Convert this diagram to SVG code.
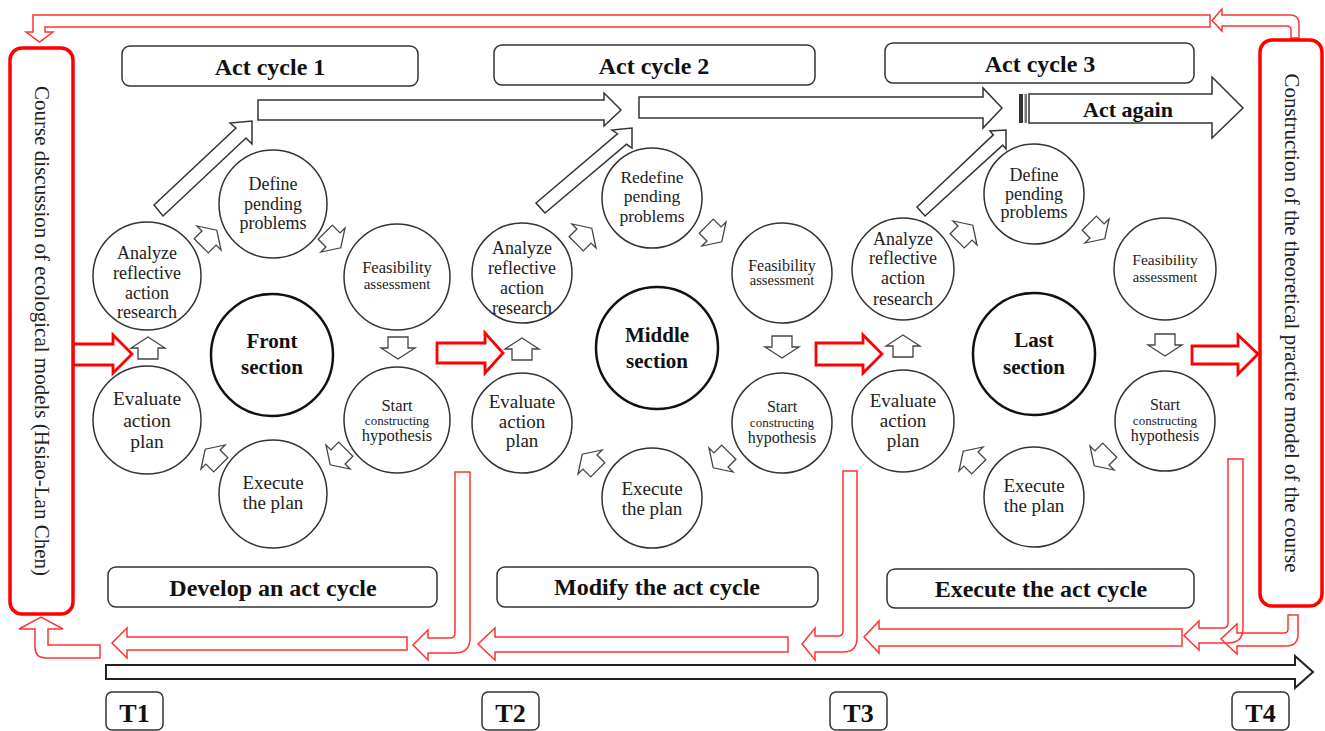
<svg xmlns="http://www.w3.org/2000/svg" width="1325" height="731" viewBox="0 0 1325 731">
<style>
.c{fill:#fff;stroke:#333;stroke-width:1.5}
.cc{fill:#fff;stroke:#111;stroke-width:2.5}
.box{fill:#fff;stroke:#333;stroke-width:1.5}
.rbox{fill:#fff;stroke:#f00;stroke-width:3.5}
.ha{fill:#fff;stroke:#333;stroke-width:1.5;stroke-linejoin:miter}
.sa{fill:#fff;stroke:#444;stroke-width:1.3}
.ra{fill:#fff;stroke:#f00;stroke-width:2.8}
.ta{fill:none;stroke:#f33;stroke-width:1.5}
.t{font-family:"Liberation Serif","Times New Roman",serif;fill:#222;text-anchor:middle}
.b{font-weight:bold;fill:#111}
</style>
<defs>
<path id="sa" d="M-10,11 L10,11 L10,0 L17,0 L0,-11 L-17,0 L-10,0 Z"/>
</defs>

<g id="connectors">
  <path class="ta" d="M1291,38 L1299,38 L1299,24 Q1299,15 1290,15 L1222,15 L1222,9 L1212,20.5 L1222,31 L1222,26 L1287,26 Q1291,26 1291,30 Z"/>
  <path class="ta" d="M1210,15 L33,15 L33,32 L26,32 L39.5,42 L53,32 L45,32 L45,27 L1210,27 Z"/>
  <path class="ta" d="M100,645 L48,645 L48,629 L63,629 L41,617 L19,629 L35,629 L35,647 Q35,658 46,658 L100,658 Z"/>
  <path class="ta" d="M407,637 L127,637 L127,628 L112,643 L127,658 L127,650 L407,650 Z"/>
  <path class="ta" d="M455,472 L470,472 L470,638 Q470,653 455,653 L428,653 L428,660 L413,645 L428,630 L428,638 L450,638 Q455,638 455,633 Z"/>
  <path class="ta" d="M788,637 L495,637 L495,628 L478,644 L495,660 L495,652 L788,652 Z"/>
  <path class="ta" d="M843,471 L857,471 L857,638 Q857,652 843,652 L815,652 L815,660 L802,644 L815,628 L815,636 L838,636 Q843,636 843,631 Z"/>
  <path class="ta" d="M1182,629 L879,629 L879,621 L864,637 L879,653 L879,646 L1182,646 Z"/>
  <path class="ta" d="M1228,459 L1243,459 L1243,628 Q1243,643 1228,643 L1199,643 L1199,650 L1184,635.5 L1199,621 L1199,628 L1223,628 Q1228,628 1228,623 Z"/>
  <path class="ta" d="M1288,615 L1298,615 L1298,634 Q1298,646 1286,646 L1237,646 L1237,654 L1221,639 L1237,624 L1237,633 L1284,633 Q1288,633 1288,629 Z"/>

  <polygon fill="#fff" stroke="#222" stroke-width="2" points="106,665 1295,665 1295,656 1313,672 1295,688 1295,679 106,679"/>

  <polygon class="ha" points="154,205 236,128 230,123 252,121 252,144 246,138 163,216"/>
  <polygon class="ha" points="258,100 604,100 604,93 621,110 604,126 604,120 258,120"/>
  <polygon class="ha" points="536,203 617.5,133.7 612,130 632,128 632,148 626.5,144.3 545,213"/>
  <polygon class="ha" points="639,97 983,97 983,88 1002,108 983,128 983,118 639,118"/>
  <polygon class="ha" points="917,207 993.3,134.9 990,131 1006,130 1006,149 1002.7,145.1 925,216"/>
  <rect x="1019" y="94" width="4" height="29" fill="#333"/>
  <rect x="1024.5" y="94" width="2.5" height="29" fill="#777"/>
  <polygon class="ha" points="1029,94 1212,94 1212,77 1243,108 1212,138 1212,123 1029,123"/>
  <text class="t b" x="1128" y="117" font-size="22">Act again</text>

  <polygon class="ra" points="73,344 113,344 113,335 132,354 113,373 113,365 73,365"/>
  <polygon class="ra" points="437,343 485,343 485,333 503,353 485,373 485,363 437,363"/>
  <polygon class="ra" points="816,343 863,343 863,335 882,354 863,373 863,365 816,365"/>
  <polygon class="ra" points="1192,346 1238,346 1238,335 1258,354 1238,374 1238,364 1192,364"/>

  <use href="#sa" class="sa" transform="translate(209,238) rotate(45)"/>
  <use href="#sa" class="sa" transform="translate(333,240) rotate(135)"/>
  <use href="#sa" class="sa" transform="translate(398,348) rotate(180)"/>
  <use href="#sa" class="sa" transform="translate(338,457) rotate(225)"/>
  <use href="#sa" class="sa" transform="translate(213,457) rotate(315)"/>
  <use href="#sa" class="sa" transform="translate(148,348)"/>
  <use href="#sa" class="sa" transform="translate(584,236) rotate(45)"/>
  <use href="#sa" class="sa" transform="translate(714,234) rotate(135)"/>
  <use href="#sa" class="sa" transform="translate(782,347) rotate(180)"/>
  <use href="#sa" class="sa" transform="translate(721,460) rotate(225)"/>
  <use href="#sa" class="sa" transform="translate(590,462) rotate(315)"/>
  <use href="#sa" class="sa" transform="translate(522,349)"/>
  <use href="#sa" class="sa" transform="translate(965,233) rotate(45)"/>
  <use href="#sa" class="sa" transform="translate(1097,231) rotate(135)"/>
  <use href="#sa" class="sa" transform="translate(1165,345) rotate(180)"/>
  <use href="#sa" class="sa" transform="translate(1102,458) rotate(225)"/>
  <use href="#sa" class="sa" transform="translate(971,459) rotate(315)"/>
  <use href="#sa" class="sa" transform="translate(903,346)"/>
</g>

<g id="course-discussion">
  <rect class="rbox" x="10" y="48" width="63" height="566" rx="12"/>
  <text class="t" font-size="21" transform="translate(35,331) rotate(90)">Course discussion of ecological models (Hsiao-Lan Chen)</text>
</g>
<g id="construction">
  <rect class="rbox" x="1260" y="40" width="62" height="566" rx="12"/>
  <text class="t" font-size="21" transform="translate(1285,323) rotate(90)">Construction of the theoretical practice model of the course</text>
</g>

<g id="act-cycle-1"><rect class="box" x="122" y="46" width="296" height="40" rx="8"/><text class="t b" x="270" y="75" font-size="24">Act cycle 1</text></g>
<g id="act-cycle-2"><rect class="box" x="494" y="45" width="321" height="40" rx="8"/><text class="t b" x="654" y="74" font-size="24">Act cycle 2</text></g>
<g id="act-cycle-3"><rect class="box" x="885" y="43" width="309" height="40" rx="8"/><text class="t b" x="1040" y="72" font-size="24">Act cycle 3</text></g>

<g id="develop"><rect class="box" x="108" y="567" width="329" height="40" rx="8"/><text class="t b" x="273" y="596" font-size="24">Develop an act cycle</text></g>
<g id="modify"><rect class="box" x="497" y="567" width="321" height="40" rx="8"/><text class="t b" x="657" y="595" font-size="24">Modify the act cycle</text></g>
<g id="execute-cycle"><rect class="box" x="887" y="569" width="307" height="39" rx="8"/><text class="t b" x="1041" y="597" font-size="24">Execute the act cycle</text></g>

<g id="t1"><rect class="box" x="106" y="692" width="57" height="38" rx="6"/><text class="t b" x="134.5" y="722" font-size="26">T1</text></g>
<g id="t2"><rect class="box" x="482" y="692" width="57" height="38" rx="6"/><text class="t b" x="510.5" y="722" font-size="26">T2</text></g>
<g id="t3"><rect class="box" x="830" y="692" width="57" height="38" rx="6"/><text class="t b" x="858.5" y="722" font-size="26">T3</text></g>
<g id="t4"><rect class="box" x="1232" y="692" width="57" height="38" rx="6"/><text class="t b" x="1260.5" y="722" font-size="26">T4</text></g>

<g id="s1-define"><circle class="c" cx="273" cy="204" r="54"/><text class="t" font-size="18"><tspan x="273" y="190">Define</tspan><tspan x="273" y="210">pending</tspan><tspan x="273" y="229">problems</tspan></text></g>
<g id="s1-analyze"><circle class="c" cx="147" cy="276" r="54"/><text class="t" font-size="18"><tspan x="147" y="259">Analyze</tspan><tspan x="147" y="279">reflective</tspan><tspan x="147" y="299">action</tspan><tspan x="147" y="318">research</tspan></text></g>
<g id="s1-feasibility"><circle class="c" cx="397" cy="277" r="53"/><text class="t"><tspan x="397" y="273" font-size="16.5">Feasibility</tspan><tspan x="397" y="289" font-size="15">assessment</tspan></text></g>
<g id="s1-front"><circle class="cc" cx="272" cy="355" r="61"/><text class="t b" font-size="21"><tspan x="272" y="348">Front</tspan><tspan x="272" y="374">section</tspan></text></g>
<g id="s1-start"><circle class="c" cx="397" cy="420" r="53"/><text class="t"><tspan x="397" y="411" font-size="16.5">Start</tspan><tspan x="397" y="425" font-size="13">constructing</tspan><tspan x="397" y="441" font-size="16.5">hypothesis</tspan></text></g>
<g id="s1-execute"><circle class="c" cx="273" cy="494" r="54"/><text class="t" font-size="19"><tspan x="273" y="489">Execute</tspan><tspan x="273" y="509">the plan</tspan></text></g>
<g id="s1-evaluate"><circle class="c" cx="147" cy="420" r="54"/><text class="t" font-size="19.5"><tspan x="147" y="405">Evaluate</tspan><tspan x="147" y="427">action</tspan><tspan x="147" y="448">plan</tspan></text></g>

<g id="s2-redefine"><circle class="c" cx="652" cy="198" r="50"/><text class="t" font-size="17.5"><tspan x="652" y="183">Redefine</tspan><tspan x="652" y="202">pending</tspan><tspan x="652" y="222">problems</tspan></text></g>
<g id="s2-analyze"><circle class="c" cx="522" cy="273" r="50"/><text class="t" font-size="18"><tspan x="522" y="254">Analyze</tspan><tspan x="522" y="274">reflective</tspan><tspan x="522" y="294">action</tspan><tspan x="522" y="314">research</tspan></text></g>
<g id="s2-feasibility"><circle class="c" cx="782" cy="273" r="50"/><text class="t"><tspan x="782" y="271" font-size="16">Feasibility</tspan><tspan x="782" y="285" font-size="14.5">assessment</tspan></text></g>
<g id="s2-middle"><circle class="cc" cx="657" cy="348" r="61"/><text class="t b" font-size="21"><tspan x="657" y="342">Middle</tspan><tspan x="657" y="368">section</tspan></text></g>
<g id="s2-start"><circle class="c" cx="782" cy="423" r="50"/><text class="t"><tspan x="782" y="412" font-size="16">Start</tspan><tspan x="782" y="427" font-size="13">constructing</tspan><tspan x="782" y="443" font-size="16">hypothesis</tspan></text></g>
<g id="s2-execute"><circle class="c" cx="652" cy="498" r="50"/><text class="t" font-size="19"><tspan x="652" y="495">Execute</tspan><tspan x="652" y="515">the plan</tspan></text></g>
<g id="s2-evaluate"><circle class="c" cx="522" cy="423" r="50"/><text class="t" font-size="19"><tspan x="522" y="408">Evaluate</tspan><tspan x="522" y="428">action</tspan><tspan x="522" y="447">plan</tspan></text></g>

<g id="s3-define"><circle class="c" cx="1034" cy="194" r="50"/><text class="t" font-size="18"><tspan x="1034" y="181">Define</tspan><tspan x="1034" y="200">pending</tspan><tspan x="1034" y="218">problems</tspan></text></g>
<g id="s3-analyze"><circle class="c" cx="903" cy="269" r="51"/><text class="t" font-size="18"><tspan x="903" y="245">Analyze</tspan><tspan x="903" y="264">reflective</tspan><tspan x="903" y="284">action</tspan><tspan x="903" y="305">research</tspan></text></g>
<g id="s3-feasibility"><circle class="c" cx="1165" cy="269" r="51"/><text class="t"><tspan x="1165" y="265" font-size="15.5">Feasibility</tspan><tspan x="1165" y="282" font-size="14.5">assessment</tspan></text></g>
<g id="s3-last"><circle class="cc" cx="1034" cy="354" r="61"/><text class="t b" font-size="21"><tspan x="1034" y="347">Last</tspan><tspan x="1034" y="374">section</tspan></text></g>
<g id="s3-start"><circle class="c" cx="1165" cy="421" r="50"/><text class="t"><tspan x="1165" y="410" font-size="16">Start</tspan><tspan x="1165" y="425" font-size="13">constructing</tspan><tspan x="1165" y="441" font-size="16">hypothesis</tspan></text></g>
<g id="s3-execute"><circle class="c" cx="1034" cy="497" r="50"/><text class="t" font-size="19"><tspan x="1034" y="492">Execute</tspan><tspan x="1034" y="512">the plan</tspan></text></g>
<g id="s3-evaluate"><circle class="c" cx="903" cy="421" r="51"/><text class="t" font-size="19"><tspan x="903" y="407">Evaluate</tspan><tspan x="903" y="427">action</tspan><tspan x="903" y="447">plan</tspan></text></g>
</svg>
